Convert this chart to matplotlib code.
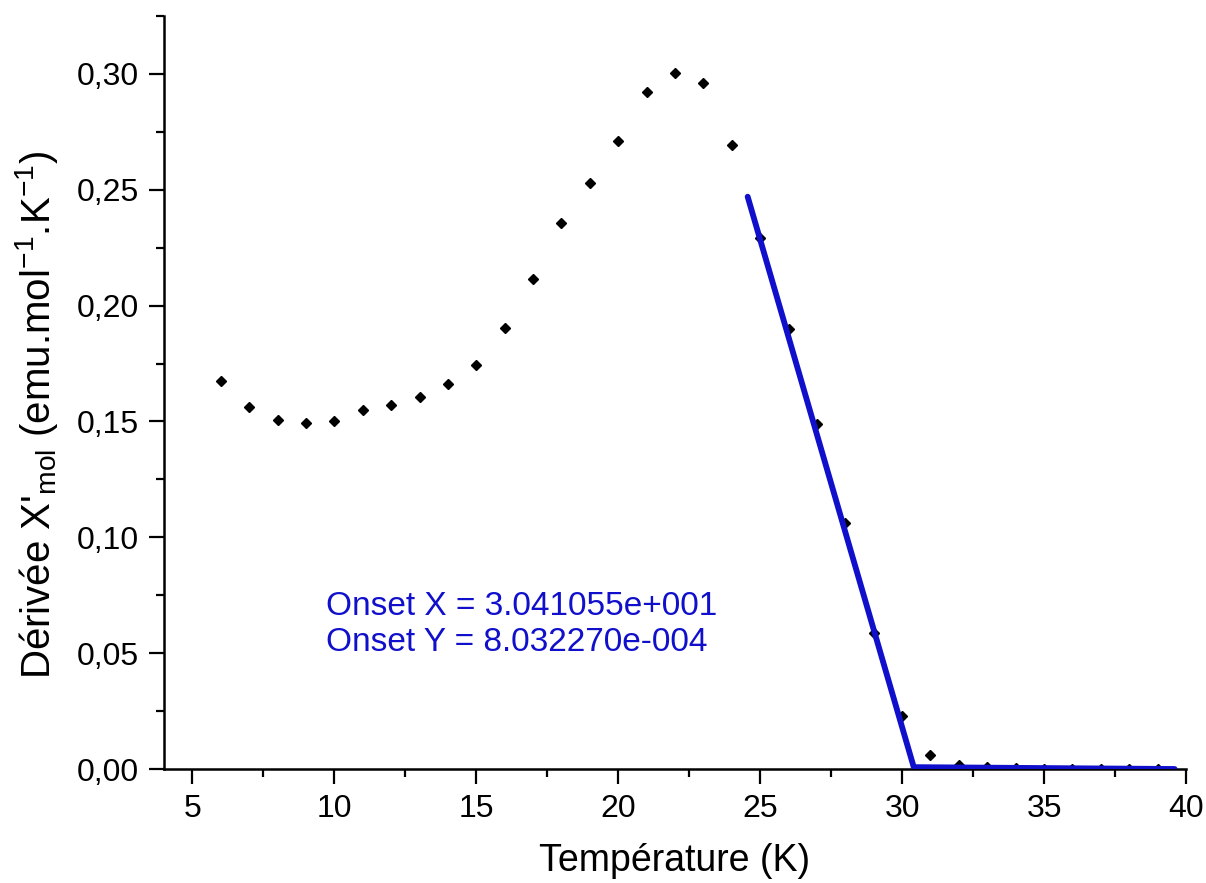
import matplotlib
matplotlib.use("Agg")
import matplotlib.pyplot as plt
from matplotlib.ticker import FuncFormatter, MultipleLocator

plt.rcParams['font.family'] = ['Liberation Sans', 'DejaVu Sans']
plt.rcParams['mathtext.fontset'] = 'custom'
plt.rcParams['mathtext.rm'] = 'Liberation Sans'
plt.rcParams['mathtext.it'] = 'Liberation Sans:italic'

# Data
temperature = [6, 7, 8, 9, 10, 11, 12, 13, 14, 15, 16, 17, 18, 19, 20, 21, 22, 23, 24,
               25, 26, 27, 28, 29, 30, 31, 32, 33, 34, 35, 36, 37, 38, 39]
derivative = [0.1676, 0.1561, 0.1506, 0.1493, 0.1500, 0.1548, 0.1571, 0.1605, 0.1660,
              0.1744, 0.1904, 0.2113, 0.2356, 0.2528, 0.2711, 0.2923, 0.3003, 0.2960,
              0.2695, 0.2293, 0.1901, 0.1488, 0.1060, 0.0588, 0.0229, 0.0061, 0.0018,
              0.0008, 0.0003, 0.0001, 0.0000, 0.0000, 0.0000, 0.0000]

onset_line_x = [24.56, 30.41055, 39.6]
onset_line_y = [0.247, 0.00080, 0.0]

onset_texts = ["Onset X = 3.041055e+001", "Onset Y = 8.032270e-004"]

x_ticks = [5, 10, 15, 20, 25, 30, 35, 40]
y_ticks = [0.00, 0.05, 0.10, 0.15, 0.20, 0.25, 0.30]

blue = '#1010cc'

fig = plt.figure(figsize=(12.06, 8.83), dpi=100)
ax = fig.add_axes([0.136, 0.1291, 0.9834 - 0.136, 0.9819 - 0.1291])

ax.plot(temperature, derivative, linestyle='none', marker='D', markersize=5,
        color='black', zorder=2)
ax.plot(onset_line_x, onset_line_y, color=blue, linewidth=4.2, solid_capstyle='round',
        zorder=3)

ax.text(9.7, 0.0666, onset_texts[0], color=blue, fontsize=24, va='baseline', ha='left')
ax.text(9.7, 0.0510, onset_texts[1], color=blue, fontsize=24, va='baseline', ha='left')

ax.set_xlim(4, 40)
ax.set_ylim(0, 0.325)
ax.set_xticks(x_ticks)
ax.set_yticks(y_ticks)
ax.xaxis.set_minor_locator(MultipleLocator(2.5))
ax.yaxis.set_minor_locator(MultipleLocator(0.025))
ax.yaxis.set_major_formatter(FuncFormatter(lambda v, p: f"{v:.2f}".replace('.', ',')))

for s in ['top', 'right']:
    ax.spines[s].set_visible(False)
for s in ['left', 'bottom']:
    ax.spines[s].set_linewidth(1.8)

ax.tick_params(axis='both', which='major', direction='out', length=11, width=1.6,
               labelsize=23, pad=7)
ax.tick_params(axis='both', which='minor', direction='out', length=6, width=1.6)

ax.set_xlabel("Température (K)", fontsize=27, labelpad=14)
ax.set_ylabel(r"Dérivée X'$_{\mathrm{mol}}$ (emu.mol$^{\mathrm{-1}}$.K$^{\mathrm{-1}}$)",
              fontsize=29)
ax.yaxis.set_label_coords(-0.102, 0.47)

fig.savefig("out.png", dpi=100)
